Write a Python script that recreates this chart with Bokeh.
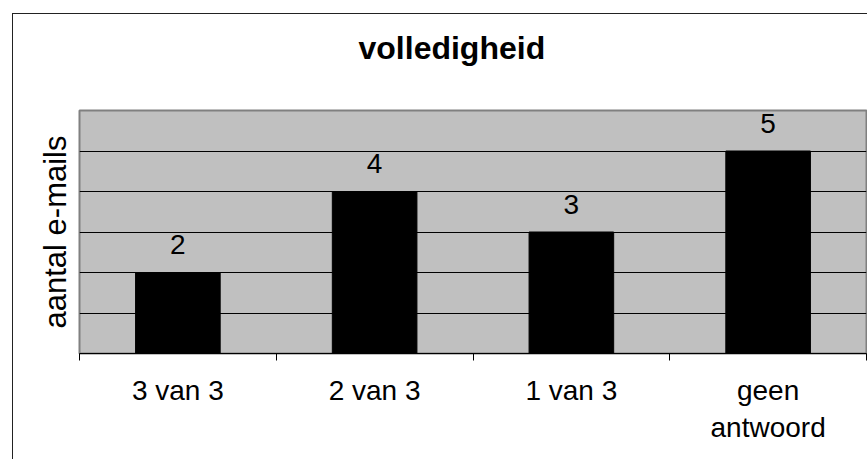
from bokeh.plotting import figure
from bokeh.models import Range1d, FixedTicker
from bokeh.core.properties import value
from bokeh.embed import file_html
from bokeh.resources import INLINE

categories = ["3 van 3", "2 van 3", "1 van 3", "geen\nantwoord"]
counts = [2, 4, 3, 5]
y_label = "aantal e-mails"
title_text = "volledigheid"
grid_values = [1, 2, 3, 4, 5]

xs = [i + 0.5 for i in range(len(categories))]

p = figure(width=855, height=446, output_backend="svg", toolbar_location=None,
           x_range=Range1d(0, len(categories)), y_range=Range1d(0, 6),
           min_border_left=66, min_border_right=2, min_border_top=96, min_border_bottom=107)
p.styles = {"margin-left": "12px", "margin-top": "13px", "margin-bottom": "-16px",
            "border-left": "1px solid #222", "border-top": "1px solid #222"}

# trailing empty line lifts the title away from the plot area
p.title.text = title_text + "\n"
p.title.align = "left"
p.title.offset = 279
p.title.standoff = 17
p.title.text_font = "Liberation Sans"
p.title.text_font_size = "32px"
p.title.text_font_style = "bold"
p.title.text_color = "black"

p.background_fill_color = "#C0C0C0"
p.border_fill_color = "white"
p.outline_line_color = "#808080"
p.outline_line_width = 2

p.vbar(x=xs, top=counts, width=0.43, fill_color="black", line_color="black")
p.text(x=xs, y=counts, text=[str(c) for c in counts], y_offset=-28,
       text_align="center", text_baseline="alphabetic",
       text_font=value("Liberation Sans"), text_font_size="28px", text_color="black")

# x axis
p.xaxis.ticker = FixedTicker(ticks=xs, minor_ticks=list(range(len(categories) + 1)))
p.xaxis.major_label_overrides = {x: c for x, c in zip(xs, categories)}
p.xaxis.major_tick_line_color = None
p.xaxis.major_tick_out = 0
p.xaxis.major_tick_in = 0
p.xaxis.minor_tick_line_color = "black"
p.xaxis.minor_tick_out = 7
p.xaxis.minor_tick_in = 0
p.xaxis.axis_line_color = "black"
p.xaxis.major_label_text_font = "Liberation Sans"
p.xaxis.major_label_text_font_size = "28px"
p.xaxis.major_label_text_color = "black"
p.xaxis.major_label_standoff = 14
p.xgrid.grid_line_color = None

# y axis (no tick labels)
p.yaxis.ticker = FixedTicker(ticks=[])
p.yaxis.major_tick_line_color = None
p.yaxis.minor_tick_line_color = None
p.yaxis.major_tick_out = 0
p.yaxis.major_tick_in = 0
p.yaxis.major_label_standoff = 0
p.yaxis.axis_line_color = None
p.yaxis.axis_label = y_label
p.yaxis.axis_label_text_font = "Liberation Sans"
p.yaxis.axis_label_text_font_size = "31px"
p.yaxis.axis_label_text_font_style = "normal"
p.yaxis.axis_label_text_color = "black"
p.yaxis.axis_label_standoff = 7
p.ygrid.ticker = FixedTicker(ticks=grid_values)
p.ygrid.grid_line_color = "black"
p.ygrid.grid_line_width = 1

open("out.html", "w").write(file_html(p, INLINE))
